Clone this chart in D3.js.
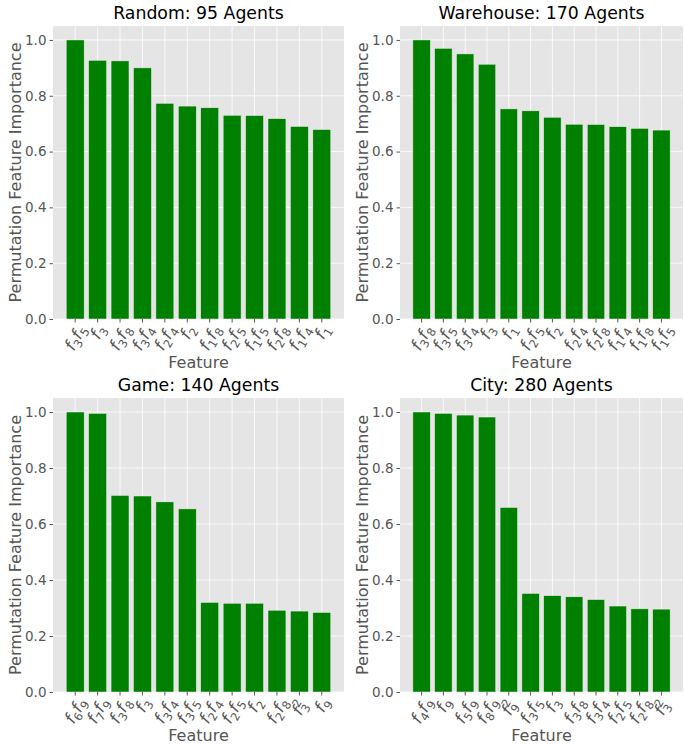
<!DOCTYPE html>
<html>
<head>
<meta charset="utf-8">
<script src="https://cdn.jsdelivr.net/npm/d3@7"></script>
<style>
  body { margin: 0; background: #fff; }
  svg { font-family: "DejaVu Sans", sans-serif; }
</style>
</head>
<body>
<svg id="chart" width="684" height="744"></svg>
<script>
// panel titles
const titles = ['Random: 95 Agents', 'Warehouse: 170 Agents', 'Game: 140 Agents', 'City: 280 Agents'];

// feature labels per panel (f_i terms, ^2 means squared)
const randomFeatures = ['f_3f_5', 'f_3', 'f_3f_8', 'f_3f_4', 'f_2f_4', 'f_2', 'f_1f_8', 'f_2f_5', 'f_1f_5', 'f_2f_8', 'f_1f_4', 'f_1'];
const warehouseFeatures = ['f_3f_8', 'f_3f_5', 'f_3f_4', 'f_3', 'f_1', 'f_2f_5', 'f_2', 'f_2f_4', 'f_2f_8', 'f_1f_4', 'f_1f_8', 'f_1f_5'];
const gameFeatures = ['f_6f_9', 'f_7f_9', 'f_3f_8', 'f_3', 'f_3f_4', 'f_3f_5', 'f_2f_4', 'f_2f_5', 'f_2', 'f_2f_8', 'f_3^2', 'f_9'];
const cityFeatures = ['f_4f_9', 'f_9', 'f_5f_9', 'f_8f_9', 'f_9^2', 'f_3f_5', 'f_3', 'f_3f_8', 'f_3f_4', 'f_2f_5', 'f_2f_8', 'f_3^2'];

// permutation importance values
const randomValues = [1.0, 0.927, 0.925, 0.900, 0.773, 0.763, 0.757, 0.730, 0.729, 0.718, 0.690, 0.679];
const warehouseValues = [1.0, 0.970, 0.950, 0.913, 0.753, 0.746, 0.723, 0.698, 0.697, 0.689, 0.683, 0.677];
const gameValues = [1.0, 0.995, 0.702, 0.700, 0.679, 0.654, 0.320, 0.317, 0.317, 0.292, 0.289, 0.284];
const cityValues = [1.0, 0.995, 0.989, 0.982, 0.659, 0.352, 0.344, 0.340, 0.330, 0.307, 0.297, 0.296];

const yTicks = [0, 0.2, 0.4, 0.6, 0.8, 1.0];

const panels = [
  {title: titles[0], features: randomFeatures, values: randomValues, x0: 53, x1: 344, y0: 26, y1: 319},
  {title: titles[1], features: warehouseFeatures, values: warehouseValues, x0: 400, x1: 683, y0: 26, y1: 319},
  {title: titles[2], features: gameFeatures, values: gameValues, x0: 53, x1: 344, y0: 398, y1: 692},
  {title: titles[3], features: cityFeatures, values: cityValues, x0: 400, x1: 683, y0: 398, y1: 692}
];

const svg = d3.select('#chart');
const angle = 60;
const fs = 16.5, sub = 11.5;

panels.forEach(p => {
  const n = p.values.length;
  const x = d3.scaleLinear().domain([-0.99, n - 1 + 0.99]).range([p.x0, p.x1]);
  const y = d3.scaleLinear().domain([0, 1.05]).range([p.y1, p.y0]);

  const g = svg.append('g');

  /*********** background + grid ***********/
  g.append('rect')
    .attr('x', p.x0).attr('y', p.y0)
    .attr('width', p.x1 - p.x0).attr('height', p.y1 - p.y0)
    .attr('fill', '#E5E5E5');

  g.selectAll('.hgrid').data(yTicks).join('line')
    .attr('x1', p.x0).attr('x2', p.x1)
    .attr('y1', d => y(d)).attr('y2', d => y(d))
    .attr('stroke', '#fff').attr('stroke-width', 0.8);

  g.selectAll('.vgrid').data(d3.range(n)).join('line')
    .attr('x1', d => x(d)).attr('x2', d => x(d))
    .attr('y1', p.y0).attr('y2', p.y1)
    .attr('stroke', '#fff').attr('stroke-width', 0.8);

  /*********** bars ***********/
  g.selectAll('.bar').data(p.values).join('rect')
    .attr('x', (d, i) => x(i - 0.4))
    .attr('width', x(0.8) - x(0))
    .attr('y', d => y(d))
    .attr('height', d => y(0) - y(d))
    .attr('fill', '#008000')
    .attr('stroke', '#EEEEEE')
    .attr('stroke-width', 0.5);

  /*********** y axis ***********/
  const yAxis = g.append('g')
    .attr('transform', `translate(${p.x0},0)`)
    .call(d3.axisLeft(y).tickValues(yTicks).tickFormat(d3.format('.1f')).tickSize(3.5).tickPadding(3));
  yAxis.select('.domain').remove();
  yAxis.selectAll('line').attr('stroke', '#555');
  yAxis.selectAll('text').attr('fill', '#555').style('font-size', '13.5px').style('font-family', '"DejaVu Sans"');

  /*********** x ticks + labels ***********/
  g.selectAll('.xtick').data(d3.range(n)).join('line')
    .attr('x1', d => x(d)).attr('x2', d => x(d))
    .attr('y1', p.y1).attr('y2', p.y1 + 3.5)
    .attr('stroke', '#555');

  p.features.forEach((lab, i) => {
    const t = g.append('text')
      .attr('fill', '#555')
      .attr('text-anchor', 'middle')
      .style('font-size', fs + 'px');
    const terms = [...lab.matchAll(/f_(\d)(\^2)?/g)];
    terms.forEach(m => {
      t.append('tspan').style('font-style', 'italic').text('f');
      if (m[2]) {
        t.append('tspan').attr('dy', -6.5).style('font-size', sub + 'px').text('2');
        t.append('tspan').attr('dx', -sub * 0.636).attr('dy', 10.5).style('font-size', sub + 'px').text(m[1]);
        t.append('tspan').attr('dy', -4).text('\u200b');
      } else {
        t.append('tspan').attr('dy', 4).style('font-size', sub + 'px').text(m[1]);
        t.append('tspan').attr('dy', -4).text('\u200b');
      }
    });
    const L = t.node().getComputedTextLength();
    const h = fs;
    const rad = angle * Math.PI / 180;
    const half = (L * Math.sin(rad) + h * Math.cos(rad)) / 2;
    t.attr('transform', `translate(${x(i)},${p.y1 + 3 + half}) rotate(${-angle})`)
      .attr('dy', '0.35em');
  });

  /*********** titles and labels ***********/
  svg.append('text')
    .attr('x', (p.x0 + p.x1) / 2).attr('y', p.y0 - 7)
    .attr('text-anchor', 'middle')
    .style('font-size', '17.3px')
    .attr('fill', '#000')
    .text(p.title);

  svg.append('text')
    .attr('x', (p.x0 + p.x1) / 2).attr('y', p.y1 + 49)
    .attr('text-anchor', 'middle')
    .style('font-size', '16px')
    .attr('fill', '#555')
    .text('Feature');

  svg.append('text')
    .attr('transform', `translate(${p.x0 - 32},${(p.y0 + p.y1) / 2}) rotate(-90)`)
    .attr('text-anchor', 'middle')
    .style('font-size', '16px')
    .attr('fill', '#555')
    .text('Permutation Feature Importance');
});
</script>
</body>
</html>
